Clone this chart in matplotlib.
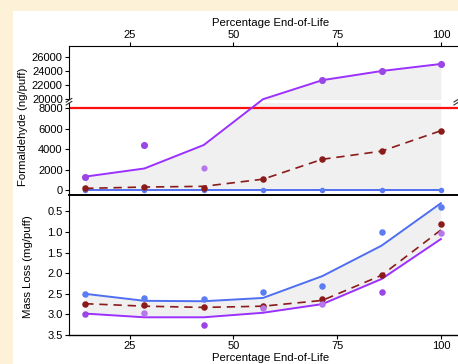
import numpy as np
import matplotlib.pyplot as plt
from matplotlib.patches import Rectangle

plt.rcParams['font.family'] = ['Liberation Sans', 'DejaVu Sans']
plt.rcParams['font.size'] = 8

pct = [14.29, 28.57, 42.86, 57.14, 71.43, 85.71, 100]
x_ticks = [25, 50, 75, 100]
form_ticks = [0, 2000, 4000, 6000, 8000, 20000, 22000, 24000, 26000]
mass_ticks = [0.5, 1.0, 1.5, 2.0, 2.5, 3.0, 3.5]

# formaldehyde (ng/puff)
form_hi_line = [1300, 2100, 4400, 20000, 22700, 24000, 25000]
form_hi_pts = [1300, 4400, 2100, None, 22700, 24000, 25000]
form_hi_light = [False, False, True, False, False, False, False]
form_mid_line = [150, 280, 350, 1050, 3000, 3800, 5800]
form_mid_pts = [150, 300, 200, 1050, 3000, 3800, 5800]
form_lo_line = [0, 0, 0, 0, 0, 0, 0]
form_limit = 8000

# mass loss (mg/puff)
mass_blue_line = [2.5, 2.67, 2.68, 2.6, 2.07, 1.33, 0.3]
mass_blue_pts = [2.5, 2.6, 2.63, 2.45, 2.31, 1.0, 0.38]
mass_mid_line = [2.74, 2.8, 2.83, 2.8, 2.66, 2.05, 0.95]
mass_mid_pts = [2.74, 2.77, 2.81, 2.79, 2.62, 2.05, 0.8]
mass_purp_line = [2.98, 3.07, 3.07, 2.96, 2.75, 2.14, 1.17]
mass_purp_pts = [2.98, 2.96, 3.25, 2.85, 2.74, 2.45, 1.02]
mass_purp_light = [False, True, False, True, True, False, True]

purple = '#9b30ff'
purple_dot = '#9a45e6'
purple_light = '#b676ec'
blue = '#4f6ef0'
blue_dot = '#5b7cf2'
maroon = '#8b1a1a'
fill_c = '#f0f0f0'

# broken y axis for formaldehyde as piecewise linear scale
brk_v = np.array([-100500, -500, 8500, 19860, 27550, 127550])
brk_p = np.array([-1020, 0, 91.8, 94.8, 149.0, 854.0])


def fwd(v):
    return np.interp(v, brk_v, brk_p)


def inv(p):
    return np.interp(p, brk_p, brk_v)


fig = plt.figure(figsize=(4.58, 3.64), dpi=100, facecolor='#fdf2d8')
bg = Rectangle((13 / 458, 0), 1, 1 - 11 / 364, transform=fig.transFigure,
               facecolor='white', edgecolor='none', zorder=-10)
fig.add_artist(bg)

# plot area runs past the right edge of the picture
w = (472 - 69) / 458
ax1 = fig.add_axes([69 / 458, 1 - 195 / 364, w, 149 / 364])
ax2 = fig.add_axes([69 / 458, 1 - 335 / 364, w, 140 / 364], sharex=ax1)
for ax in (ax1, ax2):
    ax.set_facecolor('none')
    ax.spines['right'].set_visible(False)
    ax.tick_params(length=3, width=0.8, pad=1.5, labelsize=8)

ax1.set_yscale('function', functions=(fwd, inv))
ax1.set_ylim(-500, 27550)
ax1.set_yticks(form_ticks)
ax1.set_yticklabels([str(t) for t in form_ticks])
ax1.minorticks_off()

ax1.fill_between(pct, form_lo_line, form_hi_line, color=fill_c, lw=0, zorder=1)
ax1.axhspan(8500, 19860, color='white', lw=0, zorder=1.5)
ax1.axhline(form_limit, color='#ff1010', lw=1.6, zorder=2)
ax1.plot(pct, form_lo_line, color=blue, lw=1.4, zorder=3)
ax1.scatter(pct, form_lo_line, s=16, color=blue_dot, zorder=4, lw=0)
ax1.plot(pct, form_mid_line, color=maroon, lw=1.2, ls=(0, (5, 3.5)), zorder=3)
ax1.scatter(pct, form_mid_pts, s=22, color=maroon, zorder=4, lw=0)
ax1.plot(pct, form_hi_line, color=purple, lw=1.4, zorder=3)
for xv, yv, lt in zip(pct, form_hi_pts, form_hi_light):
    if yv is not None:
        ax1.scatter(xv, yv, s=26 if not lt else 20, color=purple_light if lt else purple_dot,
                    zorder=4, lw=0)

ax1.xaxis.tick_top()
ax1.xaxis.set_label_position('top')
ax1.set_xlim(10.4, 107.5)
ax1.set_xticks(x_ticks)
ax1.set_xlabel('Percentage End-of-Life', fontsize=8.2, labelpad=3)
ax1.set_ylabel('Formaldehyde (ng/puff)', fontsize=8.2)
ax1.yaxis.set_label_coords(-0.102, 0.456)
ax1.spines['bottom'].set_linewidth(1.2)

# break marks on the y spine
yb = 93.3 / 149
bx = (458 - 69) / (472 - 69) - 0.003
for xa in (0, bx):
    ax1.add_patch(Rectangle((xa - 0.009, yb - 0.012), 0.018, 0.024, transform=ax1.transAxes,
                            facecolor='white', edgecolor='none', clip_on=False, zorder=5))
    for dy in (-0.01, 0.01):
        ax1.plot([xa - 0.007, xa + 0.007], [yb + dy - 0.012, yb + dy + 0.012],
                 transform=ax1.transAxes, color='#333333', lw=0.8, clip_on=False, zorder=6)

ax2.fill_between(pct, mass_blue_line, mass_purp_line, color=fill_c, lw=0, zorder=1)
ax2.plot(pct, mass_blue_line, color=blue, lw=1.4, zorder=3)
ax2.scatter(pct, mass_blue_pts, s=22, color=blue_dot, zorder=4, lw=0)
ax2.plot(pct, mass_mid_line, color=maroon, lw=1.2, ls=(0, (5, 3.5)), zorder=3)
ax2.scatter(pct, mass_mid_pts, s=22, color=maroon, zorder=4, lw=0)
ax2.plot(pct, mass_purp_line, color=purple, lw=1.4, zorder=3)
for xv, yv, lt in zip(pct, mass_purp_pts, mass_purp_light):
    ax2.scatter(xv, yv, s=22, color=purple_light if lt else purple_dot, zorder=4, lw=0)

ax2.set_ylim(3.5, 0.1)
ax2.set_yticks(mass_ticks)
ax2.set_yticklabels(['%.1f' % t for t in mass_ticks])
ax2.tick_params(axis='x', labeltop=False, top=False, bottom=True, labelbottom=True)
ax2.set_xlabel('Percentage End-of-Life', fontsize=8.2, labelpad=1)
ax2.set_ylabel('Mass Loss (mg/puff)', fontsize=8.2)
ax2.yaxis.set_label_coords(-0.089, 0.49)
ax2.spines['top'].set_linewidth(1.2)
ax2.spines['bottom'].set_linewidth(1.0)

fig.savefig('out.png', dpi=100, facecolor=fig.get_facecolor())
